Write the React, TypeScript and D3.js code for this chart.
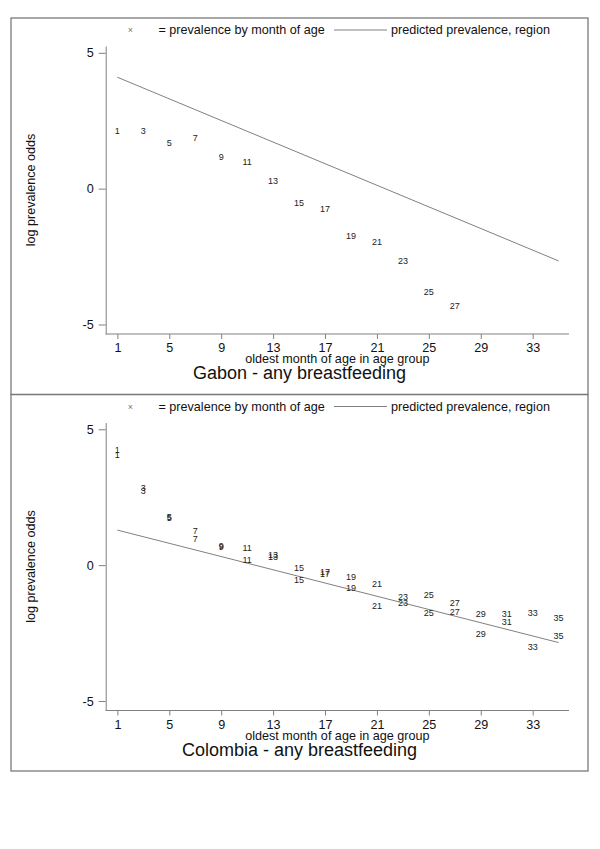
import { useEffect, useRef } from 'react';
import * as d3 from 'd3';

// observed prevalence (log odds) labels, odd months
const gabonMonths = [1, 3, 5, 7, 9, 11, 13, 15, 17, 19, 21, 23, 25, 27];
const gabonObserved = [2.11, 2.11, 1.67, 1.87, 1.15, 0.97, 0.27, -0.53, -0.75, -1.75, -1.96, -2.66, -3.79, -4.32];

const colombiaMonths = [1, 3, 5, 7, 9, 11, 13, 15, 17, 19, 21, 23, 25, 27, 29, 31, 33, 35];
const colombiaObservedA = [4.25, 2.83, 1.78, 1.25, 0.69, 0.63, 0.37, -0.12, -0.27, -0.42, -0.7, -1.17, -1.11, -1.4, -1.78, -1.78, -1.75, -1.96];
const colombiaObservedB = [4.05, 2.74, 1.75, 0.97, 0.65, 0.2, 0.31, -0.55, -0.34, -0.85, -1.5, -1.41, -1.77, -1.71, -2.55, -2.09, -3.0, -2.61];

// predicted regression line (straight line between end months)
const predictedMonths = [1, 35];
const gabonPredicted = [4.1, -2.66];
const colombiaPredicted = [1.29, -2.85];

const xTicks = [1, 5, 9, 13, 17, 21, 25, 29, 33];
const yTicks = [-5, 0, 5];

const legendPoints = '= prevalence by month of age';
const legendLine = 'predicted prevalence, region';
const xTitle = 'oldest month of age in age group';
const yTitle = 'log prevalence odds';

interface Panel {
  title: string;
  months: number[];
  observed: number[][];
  predicted: number[];
}

const panels: Panel[] = [
  { title: 'Gabon - any breastfeeding', months: gabonMonths, observed: [gabonObserved], predicted: gabonPredicted },
  { title: 'Colombia - any breastfeeding', months: colombiaMonths, observed: [colombiaObservedA, colombiaObservedB], predicted: colombiaPredicted },
];

const W = 600;
const H = 849;
const FONT = '"Liberation Sans", Arial, Helvetica, sans-serif';

export default function App() {
  const svgRef = useRef<SVGSVGElement>(null);

  useEffect(() => {
    if (!svgRef.current) return;
    const svg = d3.select(svgRef.current);
    svg.selectAll('*').remove();

    const frameLeft = 11;
    const frameRight = 588;
    const panelTop = [18, 394.5];
    const panelH = 376.5;

    const plot = { left: 105.7, right: 569, top: 28, bottom: 316 };

    const x = d3.scaleLinear().domain([0.1, 35.8]).range([plot.left, plot.right]);
    const y = d3.scaleLinear().domain([-5.35, 5.25]).range([plot.bottom, plot.top]);

    panels.forEach((p, i) => {
      const g = svg.append('g').attr('transform', `translate(0,${panelTop[i]})`);

      g.append('rect')
        .attr('x', frameLeft)
        .attr('y', 0)
        .attr('width', frameRight - frameLeft)
        .attr('height', panelH)
        .attr('fill', 'none')
        .attr('stroke', '#7a7a7a')
        .attr('stroke-width', 1.3);

      // legend
      const ly = 12;
      g.append('text')
        .attr('x', 130.5)
        .attr('y', ly)
        .attr('text-anchor', 'middle')
        .attr('dominant-baseline', 'central')
        .attr('font-size', 9)
        .attr('fill', '#777')
        .text('×');
      g.append('text')
        .attr('x', 158.5)
        .attr('y', ly)
        .attr('dominant-baseline', 'central')
        .attr('font-size', 12.6)
        .attr('fill', '#111')
        .text(legendPoints);
      g.append('line')
        .attr('x1', 334)
        .attr('x2', 387)
        .attr('y1', ly)
        .attr('y2', ly)
        .attr('stroke', '#808080')
        .attr('stroke-width', 1);
      g.append('text')
        .attr('x', 391)
        .attr('y', ly)
        .attr('dominant-baseline', 'central')
        .attr('font-size', 12.6)
        .attr('fill', '#111')
        .text(legendLine);

      // axes
      const yAxis = d3.axisLeft(y).tickValues(yTicks).tickSize(7).tickSizeOuter(0).tickPadding(5)
        .tickFormat((d) => String(d));
      const ya = g.append('g').attr('transform', `translate(${plot.left},0)`).call(yAxis);
      ya.selectAll('text').attr('font-size', 12.6).attr('font-family', FONT).attr('fill', '#111');
      ya.selectAll('.domain, .tick line').attr('stroke', '#808080');

      const xAxis = d3.axisBottom(x).tickValues(xTicks).tickSize(5).tickSizeOuter(0).tickPadding(4.5);
      const xa = g.append('g').attr('transform', `translate(0,${plot.bottom})`).call(xAxis);
      xa.selectAll('text').attr('font-size', 12.6).attr('font-family', FONT).attr('fill', '#111');
      xa.selectAll('.domain, .tick line').attr('stroke', '#808080');
      xa.select('.domain').attr('d', `M${plot.left},0H${plot.right}`);

      g.append('text')
        .attr('x', (plot.left + plot.right) / 2)
        .attr('y', 341)
        .attr('text-anchor', 'middle')
        .attr('dominant-baseline', 'central')
        .attr('font-size', 12.6)
        .attr('fill', '#111')
        .text(xTitle);

      g.append('text')
        .attr('transform', `translate(31,${(plot.top + plot.bottom) / 2}) rotate(-90)`)
        .attr('text-anchor', 'middle')
        .attr('dominant-baseline', 'central')
        .attr('font-size', 12.6)
        .attr('fill', '#111')
        .text(yTitle);

      g.append('text')
        .attr('x', (frameLeft + frameRight) / 2)
        .attr('y', 355)
        .attr('text-anchor', 'middle')
        .attr('dominant-baseline', 'central')
        .attr('font-size', 18)
        .attr('fill', '#111')
        .text(p.title);

      // predicted line
      const line = d3.line<number>()
        .x((_, k) => x(predictedMonths[k]))
        .y((d) => y(d));
      g.append('path')
        .datum(p.predicted)
        .attr('fill', 'none')
        .attr('stroke', '#808080')
        .attr('stroke-width', 1)
        .attr('d', line);

      // observed month labels
      p.observed.forEach((series) => {
        g.append('g')
          .selectAll('text')
          .data(series)
          .enter()
          .append('text')
          .attr('x', (_, k) => x(p.months[k]))
          .attr('y', (d) => y(d))
          .attr('text-anchor', 'middle')
          .attr('dominant-baseline', 'central')
          .attr('font-size', 9)
          .attr('fill', '#222')
          .text((_, k) => String(p.months[k]));
      });
    });
  }, []);

  return (
    <div style={{ position: 'absolute', left: 0, top: 0 }}>
      <svg ref={svgRef} width={W} height={H} style={{ display: 'block', fontFamily: FONT, background: '#fff' }} />
    </div>
  );
}
